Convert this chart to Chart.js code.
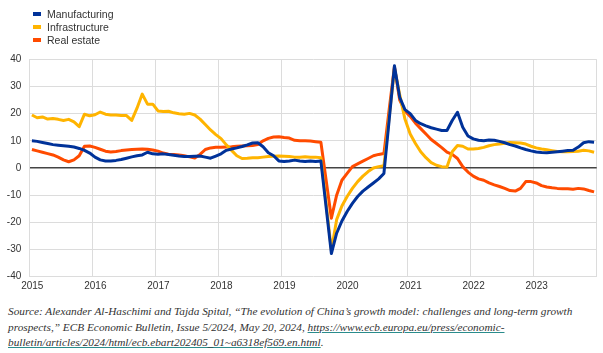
<!DOCTYPE html>
<html>
<head>
<meta charset="utf-8">
<script src="https://cdn.jsdelivr.net/npm/chart.js@4.4.1/dist/chart.umd.min.js"></script>
<style>
  body { margin: 0; width: 603px; height: 353px; background: #fff; position: relative; overflow: hidden; font-family: "Liberation Sans", Arial, sans-serif; }
  #wrap { position: absolute; left: 0; top: 0; width: 603px; height: 300px; }
  #legend { position: absolute; left: 33px; top: 7px; font-size: 10.5px; color: #333; }
  .item { display: flex; align-items: center; height: 13.4px; }
  .sw { width: 8px; height: 4px; margin-right: 6px; }
  #source { position: absolute; left: 8px; top: 304px; white-space: nowrap; font: italic 11.3px "Liberation Serif", serif; color: #333; line-height: 15.5px; }
  #source a { color: #333; text-decoration: underline; text-decoration-color: #2a8c8c; }
</style>
</head>
<body>
<div id="wrap"><canvas id="chart"></canvas></div>
<div id="legend"></div>
<div id="source">Source: Alexander Al-Haschimi and Tajda Spital, “The evolution of China’s growth model: challenges and long-term growth<br>prospects,” ECB Economic Bulletin, Issue 5/2024, May 20, 2024, <a>https://www.ecb.europa.eu/press/economic-<br>bulletin/articles/2024/html/ecb.ebart202405_01~a6318ef569.en.html</a>.</div>
<script>
// monthly values, Jan 2015 - Dec 2023
const years = ["2015", "2016", "2017", "2018", "2019", "2020", "2021", "2022", "2023"];
const seriesNames = ["Manufacturing", "Infrastructure", "Real estate"];
const seriesColors = ["#003299", "#FFB400", "#FF4B00"];

const manufacturing = [
  10, 9.8, 9.4, 9, 8.6, 8.4, 8.2, 8, 7.7, 7.2, 6.5, 5.5,
  4, 3, 2.6, 2.6, 2.8, 3.1, 3.6, 4.1, 4.5, 4.8, 5.8, 5.2,
  5.1, 5.2, 5, 4.7, 4.4, 4.2, 4.2, 4.3, 4.4, 4.0, 3.6, 4.4,
  5.2, 6.5, 7, 7.4, 7.9, 8.5, 9.2, 9.3, 7.8, 5.6, 4.5, 2.6,
  2.4, 2.6, 2.9, 2.6, 2.4, 2.6, 2.4, 2.6, -14.5, -31.5, -24, -19.5,
  -16, -13, -10.5, -8.5, -7, -5.5, -4, -2, 17.7, 37.6, 26, 21.5,
  20, 17.5, 16.3, 15.5, 14.8, 14.3, 13.8, 13.8, 17.5, 20.5, 15, 11.8,
  10.7, 10.2, 10, 10.3, 10.2, 9.8, 9.3, 8.6, 8.1, 7.4, 6.8, 6.3,
  5.9, 5.7, 5.6, 5.8, 6, 6.2, 6.4, 6.5, 7.7, 9.3, 9.7, 9.5
];
const infrastructure = [
  19.5, 18.5, 18.8, 18.0, 18.2, 17.9, 17.5, 17.9, 17.0, 15.2, 19.8, 19.2,
  19.6, 20.6, 19.8, 19.5, 19.5, 19.3, 19.3, 17.5, 22, 27.2, 23.5, 23.5,
  21, 20.8, 20.9, 20.3, 20.0, 19.8, 20.1, 19.5, 18, 16, 14, 12.3,
  10.8, 8.5, 6.5, 4.5, 3.5, 3.6, 3.8, 3.8, 4.0, 4.2, 4.3, 4.4,
  4.3, 4.2, 4.0, 4.0, 4.1, 4.0, 4.0, 3.8, -13, -30.3, -19, -14,
  -10.5, -7.5, -5, -3, -1.3, 0, 0.5, 0.8, 18.7, 36.6, 27, 18,
  12.5, 9, 6, 3.8, 2, 1, 0.5, 0.4, 6, 8.3, 8, 7,
  7, 7.2, 7.6, 8.2, 8.6, 8.8, 9.1, 9.4, 9.3, 9.2, 8.8, 8,
  7.4, 7, 6.7, 6.4, 6.1, 6, 6, 6.1, 6.2, 6.5, 6.3, 5.8
];
const realEstate = [
  6.8, 6.3, 5.8, 5.3, 4.8, 4.0, 3.0, 2.3, 3.0, 4.5, 8.0, 8.1,
  7.6, 6.9, 6.2, 5.9, 6.1, 6.4, 6.6, 6.8, 6.9, 7.0, 6.9, 6.6,
  6.2, 5.5, 5.1, 5.0, 4.8, 4.5, 4.1, 3.7, 5.0, 6.8, 7.4, 7.6,
  7.6, 7.7, 7.8, 8.0, 8.1, 8.2, 8.3, 8.6, 10.0, 10.9, 11.4, 11.5,
  11.2, 11.0, 10.2, 10.0, 10.0, 9.9, 9.7, 9.5, -4.5, -18.5, -10, -4.5,
  -2, 0.5, 1.5, 2.5, 3.5, 4.5, 5, 5.3, 21.6, 37.3, 25, 21,
  19, 16.5, 14.5, 12.5, 10.5, 9, 7.5, 5.8, 5, 3.5, 0.5, -1.5,
  -3, -4, -4.5, -5.5, -6.2, -6.8, -7.5, -8.3, -8.5, -7.5, -5, -5,
  -5.5, -6.5, -7, -7.3, -7.5, -7.6, -7.6, -7.8, -7.5, -7.7, -8.3, -8.8
];

const toPoints = (arr) => arr.map((v, i) => ({ x: i + 0.5, y: v }));
const allSeries = [manufacturing, infrastructure, realEstate];

// legend
const legend = document.getElementById("legend");
seriesNames.forEach((name, k) => {
  const row = document.createElement("div");
  row.className = "item";
  row.innerHTML = '<span class="sw" style="background:' + seriesColors[k] + '"></span>' + name;
  legend.appendChild(row);
});

const tickFont = { family: "'Liberation Sans', Arial, sans-serif", size: 10 };

new Chart(document.getElementById("chart").getContext("2d"), {
  type: "line",
  data: {
    datasets: allSeries.map((arr, k) => ({
      label: seriesNames[k],
      data: toPoints(arr),
      borderColor: seriesColors[k],
      backgroundColor: seriesColors[k],
      borderWidth: 3,
      pointRadius: 0,
      tension: 0,
      borderJoinStyle: "round",
    })),
  },
  options: {
    responsive: true,
    maintainAspectRatio: false,
    animation: false,
    layout: { padding: { top: 59.3, right: 6.3, left: 0, bottom: 0 } },
    plugins: { legend: { display: false }, tooltip: { enabled: false } },
    scales: {
      x: {
        type: "linear",
        min: 0,
        max: 108,
        afterFit: (s) => { s.height = 23.3; },
        ticks: {
          stepSize: 12,
          autoSkip: false,
          maxRotation: 0,
          padding: 4,
          labelOffset: 3,
          color: "#333",
          font: tickFont,
          callback: (v) => years[v / 12] || "",
        },
        grid: { color: "#dcdcdc", lineWidth: 1, drawTicks: false },
        border: { display: false },
      },
      y: {
        min: -40,
        max: 40,
        afterFit: (s) => { s.width = 29.3; },
        ticks: { stepSize: 10, padding: 8, color: "#333", font: tickFont },
        grid: {
          drawTicks: false,
          color: (c) => (c.tick && c.tick.value === 0 ? "#444" : "#dcdcdc"),
          lineWidth: (c) => (c.tick && c.tick.value === 0 ? 1.5 : 1),
        },
        border: { display: true, color: "#dcdcdc" },
      },
    },
  },
});
</script>
</body>
</html>
